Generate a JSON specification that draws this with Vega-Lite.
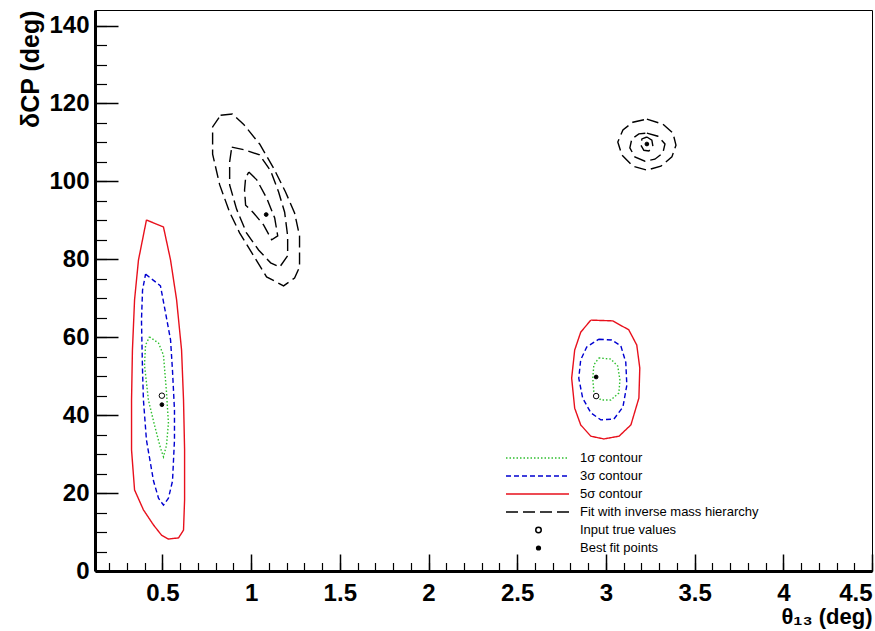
{
  "$schema": "https://vega.github.io/schema/vega-lite/v6.json",
  "width": 777,
  "height": 561,
  "autosize": "none",
  "padding": {"left": 95, "top": 10, "right": 3, "bottom": 60},
  "background": "white",
  "config": {
    "view": {"stroke": "black", "strokeWidth": 1},
    "axis": {
      "grid": false,
      "labelFont": "Liberation Sans",
      "labelFontWeight": "bold",
      "labelFontSize": 24,
      "labelColor": "black",
      "titleFont": "Liberation Sans",
      "titleFontWeight": "bold",
      "titleFontSize": 22,
      "titleColor": "black",
      "tickColor": "black",
      "domainColor": "black"
    },
    "legend": {
      "labelFont": "Liberation Sans",
      "labelFontSize": 13,
      "labelColor": "black",
      "labelLimit": 400,
      "clipHeight": 18,
      "rowPadding": 0,
      "padding": 0
    }
  },
  "datasets": {
    "contours": [
      {"g": "L1", "s": "1σ contour", "i": 0, "x": 0.427, "y": 60.1},
      {"g": "L1", "s": "1σ contour", "i": 1, "x": 0.478, "y": 58.5},
      {"g": "L1", "s": "1σ contour", "i": 2, "x": 0.506, "y": 55.4},
      {"g": "L1", "s": "1σ contour", "i": 3, "x": 0.523, "y": 45.9},
      {"g": "L1", "s": "1σ contour", "i": 4, "x": 0.534, "y": 38.0},
      {"g": "L1", "s": "1σ contour", "i": 5, "x": 0.523, "y": 32.3},
      {"g": "L1", "s": "1σ contour", "i": 6, "x": 0.506, "y": 29.3},
      {"g": "L1", "s": "1σ contour", "i": 7, "x": 0.489, "y": 31.6},
      {"g": "L1", "s": "1σ contour", "i": 8, "x": 0.455, "y": 37.5},
      {"g": "L1", "s": "1σ contour", "i": 9, "x": 0.421, "y": 43.9},
      {"g": "L1", "s": "1σ contour", "i": 10, "x": 0.399, "y": 52.9},
      {"g": "L1", "s": "1σ contour", "i": 11, "x": 0.405, "y": 58.0},
      {"g": "L1", "s": "1σ contour", "i": 12, "x": 0.427, "y": 60.1},

      {"g": "L3", "s": "3σ contour", "i": 0, "x": 0.405, "y": 76.2},
      {"g": "L3", "s": "3σ contour", "i": 1, "x": 0.489, "y": 73.2},
      {"g": "L3", "s": "3σ contour", "i": 2, "x": 0.518, "y": 66.2},
      {"g": "L3", "s": "3σ contour", "i": 3, "x": 0.546, "y": 59.3},
      {"g": "L3", "s": "3σ contour", "i": 4, "x": 0.557, "y": 51.3},
      {"g": "L3", "s": "3σ contour", "i": 5, "x": 0.568, "y": 41.3},
      {"g": "L3", "s": "3σ contour", "i": 6, "x": 0.568, "y": 33.6},
      {"g": "L3", "s": "3σ contour", "i": 7, "x": 0.557, "y": 23.1},
      {"g": "L3", "s": "3σ contour", "i": 8, "x": 0.534, "y": 18.7},
      {"g": "L3", "s": "3σ contour", "i": 9, "x": 0.506, "y": 16.9},
      {"g": "L3", "s": "3σ contour", "i": 10, "x": 0.478, "y": 18.7},
      {"g": "L3", "s": "3σ contour", "i": 11, "x": 0.450, "y": 23.1},
      {"g": "L3", "s": "3σ contour", "i": 12, "x": 0.410, "y": 33.6},
      {"g": "L3", "s": "3σ contour", "i": 13, "x": 0.393, "y": 43.9},
      {"g": "L3", "s": "3σ contour", "i": 14, "x": 0.388, "y": 51.3},
      {"g": "L3", "s": "3σ contour", "i": 15, "x": 0.382, "y": 64.4},
      {"g": "L3", "s": "3σ contour", "i": 16, "x": 0.388, "y": 72.1},
      {"g": "L3", "s": "3σ contour", "i": 17, "x": 0.405, "y": 76.2},

      {"g": "L5", "s": "5σ contour", "i": 0, "x": 0.410, "y": 90.1},
      {"g": "L5", "s": "5σ contour", "i": 1, "x": 0.506, "y": 88.3},
      {"g": "L5", "s": "5σ contour", "i": 2, "x": 0.546, "y": 79.8},
      {"g": "L5", "s": "5σ contour", "i": 3, "x": 0.580, "y": 69.6},
      {"g": "L5", "s": "5σ contour", "i": 4, "x": 0.608, "y": 56.7},
      {"g": "L5", "s": "5σ contour", "i": 5, "x": 0.619, "y": 43.9},
      {"g": "L5", "s": "5σ contour", "i": 6, "x": 0.625, "y": 31.1},
      {"g": "L5", "s": "5σ contour", "i": 7, "x": 0.625, "y": 18.2},
      {"g": "L5", "s": "5σ contour", "i": 8, "x": 0.619, "y": 10.5},
      {"g": "L5", "s": "5σ contour", "i": 9, "x": 0.591, "y": 8.5},
      {"g": "L5", "s": "5σ contour", "i": 10, "x": 0.534, "y": 8.2},
      {"g": "L5", "s": "5σ contour", "i": 11, "x": 0.495, "y": 9.2},
      {"g": "L5", "s": "5σ contour", "i": 12, "x": 0.450, "y": 11.8},
      {"g": "L5", "s": "5σ contour", "i": 13, "x": 0.393, "y": 15.7},
      {"g": "L5", "s": "5σ contour", "i": 14, "x": 0.343, "y": 20.8},
      {"g": "L5", "s": "5σ contour", "i": 15, "x": 0.326, "y": 31.1},
      {"g": "L5", "s": "5σ contour", "i": 16, "x": 0.326, "y": 43.9},
      {"g": "L5", "s": "5σ contour", "i": 17, "x": 0.331, "y": 56.7},
      {"g": "L5", "s": "5σ contour", "i": 18, "x": 0.343, "y": 69.6},
      {"g": "L5", "s": "5σ contour", "i": 19, "x": 0.365, "y": 79.8},
      {"g": "L5", "s": "5σ contour", "i": 20, "x": 0.410, "y": 90.1},

      {"g": "R1", "s": "1σ contour", "i": 0, "x": 2.960, "y": 54.7},
      {"g": "R1", "s": "1σ contour", "i": 1, "x": 3.028, "y": 54.4},
      {"g": "R1", "s": "1σ contour", "i": 2, "x": 3.067, "y": 52.6},
      {"g": "R1", "s": "1σ contour", "i": 3, "x": 3.079, "y": 49.0},
      {"g": "R1", "s": "1σ contour", "i": 4, "x": 3.073, "y": 45.7},
      {"g": "R1", "s": "1σ contour", "i": 5, "x": 3.028, "y": 43.9},
      {"g": "R1", "s": "1σ contour", "i": 6, "x": 2.971, "y": 43.9},
      {"g": "R1", "s": "1σ contour", "i": 7, "x": 2.932, "y": 45.9},
      {"g": "R1", "s": "1σ contour", "i": 8, "x": 2.926, "y": 49.5},
      {"g": "R1", "s": "1σ contour", "i": 9, "x": 2.932, "y": 52.9},
      {"g": "R1", "s": "1σ contour", "i": 10, "x": 2.960, "y": 54.7},

      {"g": "R3", "s": "3σ contour", "i": 0, "x": 2.960, "y": 59.5},
      {"g": "R3", "s": "3σ contour", "i": 1, "x": 3.033, "y": 59.3},
      {"g": "R3", "s": "3σ contour", "i": 2, "x": 3.084, "y": 57.8},
      {"g": "R3", "s": "3σ contour", "i": 3, "x": 3.112, "y": 53.6},
      {"g": "R3", "s": "3σ contour", "i": 4, "x": 3.118, "y": 47.7},
      {"g": "R3", "s": "3σ contour", "i": 5, "x": 3.096, "y": 42.1},
      {"g": "R3", "s": "3σ contour", "i": 6, "x": 3.045, "y": 39.0},
      {"g": "R3", "s": "3σ contour", "i": 7, "x": 2.971, "y": 38.8},
      {"g": "R3", "s": "3σ contour", "i": 8, "x": 2.915, "y": 40.6},
      {"g": "R3", "s": "3σ contour", "i": 9, "x": 2.869, "y": 44.4},
      {"g": "R3", "s": "3σ contour", "i": 10, "x": 2.847, "y": 49.5},
      {"g": "R3", "s": "3σ contour", "i": 11, "x": 2.858, "y": 54.2},
      {"g": "R3", "s": "3σ contour", "i": 12, "x": 2.892, "y": 57.5},
      {"g": "R3", "s": "3σ contour", "i": 13, "x": 2.960, "y": 59.5},

      {"g": "R5", "s": "5σ contour", "i": 0, "x": 2.915, "y": 64.4},
      {"g": "R5", "s": "5σ contour", "i": 1, "x": 3.039, "y": 64.2},
      {"g": "R5", "s": "5σ contour", "i": 2, "x": 3.129, "y": 61.9},
      {"g": "R5", "s": "5σ contour", "i": 3, "x": 3.174, "y": 58.0},
      {"g": "R5", "s": "5σ contour", "i": 4, "x": 3.191, "y": 52.1},
      {"g": "R5", "s": "5σ contour", "i": 5, "x": 3.186, "y": 44.4},
      {"g": "R5", "s": "5σ contour", "i": 6, "x": 3.141, "y": 37.5},
      {"g": "R5", "s": "5σ contour", "i": 7, "x": 3.074, "y": 34.6},
      {"g": "R5", "s": "5σ contour", "i": 8, "x": 2.988, "y": 33.9},
      {"g": "R5", "s": "5σ contour", "i": 9, "x": 2.915, "y": 34.6},
      {"g": "R5", "s": "5σ contour", "i": 10, "x": 2.858, "y": 37.5},
      {"g": "R5", "s": "5σ contour", "i": 11, "x": 2.824, "y": 41.8},
      {"g": "R5", "s": "5σ contour", "i": 12, "x": 2.807, "y": 49.5},
      {"g": "R5", "s": "5σ contour", "i": 13, "x": 2.824, "y": 56.7},
      {"g": "R5", "s": "5σ contour", "i": 14, "x": 2.858, "y": 61.3},
      {"g": "R5", "s": "5σ contour", "i": 15, "x": 2.915, "y": 64.4},

      {"g": "B1", "s": "Fit with inverse mass hierarchy", "i": 0, "x": 0.828, "y": 117.0},
      {"g": "B1", "s": "Fit with inverse mass hierarchy", "i": 1, "x": 0.895, "y": 117.3},
      {"g": "B1", "s": "Fit with inverse mass hierarchy", "i": 2, "x": 0.957, "y": 114.7},
      {"g": "B1", "s": "Fit with inverse mass hierarchy", "i": 3, "x": 1.048, "y": 109.6},
      {"g": "B1", "s": "Fit with inverse mass hierarchy", "i": 4, "x": 1.127, "y": 103.4},
      {"g": "B1", "s": "Fit with inverse mass hierarchy", "i": 5, "x": 1.194, "y": 97.3},
      {"g": "B1", "s": "Fit with inverse mass hierarchy", "i": 6, "x": 1.245, "y": 91.9},
      {"g": "B1", "s": "Fit with inverse mass hierarchy", "i": 7, "x": 1.273, "y": 86.0},
      {"g": "B1", "s": "Fit with inverse mass hierarchy", "i": 8, "x": 1.273, "y": 78.0},
      {"g": "B1", "s": "Fit with inverse mass hierarchy", "i": 9, "x": 1.245, "y": 75.2},
      {"g": "B1", "s": "Fit with inverse mass hierarchy", "i": 10, "x": 1.183, "y": 73.2},
      {"g": "B1", "s": "Fit with inverse mass hierarchy", "i": 11, "x": 1.087, "y": 75.5},
      {"g": "B1", "s": "Fit with inverse mass hierarchy", "i": 12, "x": 1.014, "y": 80.9},
      {"g": "B1", "s": "Fit with inverse mass hierarchy", "i": 13, "x": 0.935, "y": 86.8},
      {"g": "B1", "s": "Fit with inverse mass hierarchy", "i": 14, "x": 0.879, "y": 92.1},
      {"g": "B1", "s": "Fit with inverse mass hierarchy", "i": 15, "x": 0.823, "y": 99.1},
      {"g": "B1", "s": "Fit with inverse mass hierarchy", "i": 16, "x": 0.783, "y": 107.0},
      {"g": "B1", "s": "Fit with inverse mass hierarchy", "i": 17, "x": 0.783, "y": 114.0},
      {"g": "B1", "s": "Fit with inverse mass hierarchy", "i": 18, "x": 0.828, "y": 117.0},

      {"g": "B2", "s": "Fit with inverse mass hierarchy", "i": 0, "x": 0.891, "y": 108.8},
      {"g": "B2", "s": "Fit with inverse mass hierarchy", "i": 1, "x": 0.964, "y": 108.1},
      {"g": "B2", "s": "Fit with inverse mass hierarchy", "i": 2, "x": 1.048, "y": 106.8},
      {"g": "B2", "s": "Fit with inverse mass hierarchy", "i": 3, "x": 1.110, "y": 102.7},
      {"g": "B2", "s": "Fit with inverse mass hierarchy", "i": 4, "x": 1.155, "y": 97.3},
      {"g": "B2", "s": "Fit with inverse mass hierarchy", "i": 5, "x": 1.189, "y": 92.1},
      {"g": "B2", "s": "Fit with inverse mass hierarchy", "i": 6, "x": 1.206, "y": 86.0},
      {"g": "B2", "s": "Fit with inverse mass hierarchy", "i": 7, "x": 1.206, "y": 80.9},
      {"g": "B2", "s": "Fit with inverse mass hierarchy", "i": 8, "x": 1.161, "y": 78.0},
      {"g": "B2", "s": "Fit with inverse mass hierarchy", "i": 9, "x": 1.110, "y": 79.1},
      {"g": "B2", "s": "Fit with inverse mass hierarchy", "i": 10, "x": 1.042, "y": 82.4},
      {"g": "B2", "s": "Fit with inverse mass hierarchy", "i": 11, "x": 0.974, "y": 86.8},
      {"g": "B2", "s": "Fit with inverse mass hierarchy", "i": 12, "x": 0.918, "y": 92.9},
      {"g": "B2", "s": "Fit with inverse mass hierarchy", "i": 13, "x": 0.879, "y": 99.1},
      {"g": "B2", "s": "Fit with inverse mass hierarchy", "i": 14, "x": 0.879, "y": 105.0},
      {"g": "B2", "s": "Fit with inverse mass hierarchy", "i": 15, "x": 0.891, "y": 108.8},

      {"g": "B3", "s": "Fit with inverse mass hierarchy", "i": 0, "x": 0.987, "y": 102.4},
      {"g": "B3", "s": "Fit with inverse mass hierarchy", "i": 1, "x": 1.032, "y": 100.4},
      {"g": "B3", "s": "Fit with inverse mass hierarchy", "i": 2, "x": 1.088, "y": 95.7},
      {"g": "B3", "s": "Fit with inverse mass hierarchy", "i": 3, "x": 1.133, "y": 90.6},
      {"g": "B3", "s": "Fit with inverse mass hierarchy", "i": 4, "x": 1.150, "y": 86.0},
      {"g": "B3", "s": "Fit with inverse mass hierarchy", "i": 5, "x": 1.116, "y": 85.0},
      {"g": "B3", "s": "Fit with inverse mass hierarchy", "i": 6, "x": 1.071, "y": 88.8},
      {"g": "B3", "s": "Fit with inverse mass hierarchy", "i": 7, "x": 1.014, "y": 91.9},
      {"g": "B3", "s": "Fit with inverse mass hierarchy", "i": 8, "x": 0.969, "y": 93.9},
      {"g": "B3", "s": "Fit with inverse mass hierarchy", "i": 9, "x": 0.963, "y": 97.8},
      {"g": "B3", "s": "Fit with inverse mass hierarchy", "i": 10, "x": 0.969, "y": 100.9},
      {"g": "B3", "s": "Fit with inverse mass hierarchy", "i": 11, "x": 0.987, "y": 102.4},

      {"g": "C1", "s": "Fit with inverse mass hierarchy", "i": 0, "x": 3.231, "y": 116.0},
      {"g": "C1", "s": "Fit with inverse mass hierarchy", "i": 1, "x": 3.321, "y": 114.7},
      {"g": "C1", "s": "Fit with inverse mass hierarchy", "i": 2, "x": 3.378, "y": 112.4},
      {"g": "C1", "s": "Fit with inverse mass hierarchy", "i": 3, "x": 3.395, "y": 109.3},
      {"g": "C1", "s": "Fit with inverse mass hierarchy", "i": 4, "x": 3.372, "y": 106.3},
      {"g": "C1", "s": "Fit with inverse mass hierarchy", "i": 5, "x": 3.310, "y": 103.9},
      {"g": "C1", "s": "Fit with inverse mass hierarchy", "i": 6, "x": 3.231, "y": 102.9},
      {"g": "C1", "s": "Fit with inverse mass hierarchy", "i": 7, "x": 3.152, "y": 103.9},
      {"g": "C1", "s": "Fit with inverse mass hierarchy", "i": 8, "x": 3.090, "y": 106.8},
      {"g": "C1", "s": "Fit with inverse mass hierarchy", "i": 9, "x": 3.067, "y": 110.1},
      {"g": "C1", "s": "Fit with inverse mass hierarchy", "i": 10, "x": 3.096, "y": 113.2},
      {"g": "C1", "s": "Fit with inverse mass hierarchy", "i": 11, "x": 3.152, "y": 115.2},
      {"g": "C1", "s": "Fit with inverse mass hierarchy", "i": 12, "x": 3.231, "y": 116.0},

      {"g": "C2", "s": "Fit with inverse mass hierarchy", "i": 0, "x": 3.231, "y": 112.4},
      {"g": "C2", "s": "Fit with inverse mass hierarchy", "i": 1, "x": 3.293, "y": 111.6},
      {"g": "C2", "s": "Fit with inverse mass hierarchy", "i": 2, "x": 3.333, "y": 109.6},
      {"g": "C2", "s": "Fit with inverse mass hierarchy", "i": 3, "x": 3.321, "y": 107.3},
      {"g": "C2", "s": "Fit with inverse mass hierarchy", "i": 4, "x": 3.276, "y": 105.7},
      {"g": "C2", "s": "Fit with inverse mass hierarchy", "i": 5, "x": 3.220, "y": 105.2},
      {"g": "C2", "s": "Fit with inverse mass hierarchy", "i": 6, "x": 3.163, "y": 106.3},
      {"g": "C2", "s": "Fit with inverse mass hierarchy", "i": 7, "x": 3.135, "y": 108.6},
      {"g": "C2", "s": "Fit with inverse mass hierarchy", "i": 8, "x": 3.146, "y": 110.9},
      {"g": "C2", "s": "Fit with inverse mass hierarchy", "i": 9, "x": 3.186, "y": 112.2},
      {"g": "C2", "s": "Fit with inverse mass hierarchy", "i": 10, "x": 3.231, "y": 112.4},

      {"g": "C3", "s": "Fit with inverse mass hierarchy", "i": 0, "x": 3.231, "y": 111.4},
      {"g": "C3", "s": "Fit with inverse mass hierarchy", "i": 1, "x": 3.259, "y": 110.6},
      {"g": "C3", "s": "Fit with inverse mass hierarchy", "i": 2, "x": 3.265, "y": 109.0},
      {"g": "C3", "s": "Fit with inverse mass hierarchy", "i": 3, "x": 3.242, "y": 107.8},
      {"g": "C3", "s": "Fit with inverse mass hierarchy", "i": 4, "x": 3.214, "y": 108.0},
      {"g": "C3", "s": "Fit with inverse mass hierarchy", "i": 5, "x": 3.197, "y": 109.3},
      {"g": "C3", "s": "Fit with inverse mass hierarchy", "i": 6, "x": 3.203, "y": 110.9},
      {"g": "C3", "s": "Fit with inverse mass hierarchy", "i": 7, "x": 3.231, "y": 111.4}
    ],
    "points": [
      {"p": "Input true values", "x": 0.497, "y": 45.0},
      {"p": "Best fit points", "x": 0.497, "y": 42.7},
      {"p": "Input true values", "x": 2.945, "y": 44.9},
      {"p": "Best fit points", "x": 2.945, "y": 49.8},
      {"p": "Best fit points", "x": 1.085, "y": 91.5},
      {"p": "Best fit points", "x": 3.231, "y": 109.6}
    ]
  },
  "layer": [
    {
      "data": {"name": "contours"},
      "mark": {"type": "line", "strokeWidth": 1.4, "strokeCap": "butt"},
      "encoding": {
        "x": {
          "field": "x", "type": "quantitative",
          "scale": {"domain": [0.12, 4.5], "nice": false, "zero": false},
          "axis": {
            "orient": "bottom",
            "values": [0.5, 1, 1.5, 2, 2.5, 3, 3.5, 4, 4.5],
            "format": "~g",
            "tickSize": -17, "tickWidth": 1.5,
            "labelPadding": 27, "labelFlush": true,
            "domainWidth": 3,
            "title": "θ₁₃ (deg)", "titleAnchor": "end", "titlePadding": 1
          }
        },
        "y": {
          "field": "y", "type": "quantitative",
          "scale": {"domain": [0, 144], "nice": false, "zero": false},
          "axis": {
            "orient": "left",
            "values": [0, 20, 40, 60, 80, 100, 120, 140],
            "format": "d",
            "tickSize": -23, "tickWidth": 1.5,
            "labelPadding": 29,
            "domainWidth": 3,
            "title": "δCP (deg)", "titleAnchor": "end", "titlePadding": 5, "titleFontSize": 25
          }
        },
        "detail": {"field": "g", "type": "nominal"},
        "order": {"field": "i", "type": "quantitative"},
        "color": {
          "field": "s", "type": "nominal",
          "scale": {
            "domain": ["1σ contour", "3σ contour", "5σ contour", "Fit with inverse mass hierarchy"],
            "range": ["#2fbf2f", "#0000d0", "#e8101c", "#000000"]
          },
          "legend": {
            "title": null, "orient": "none", "legendX": 410, "legendY": 439,
            "symbolType": "stroke", "symbolSize": 3969, "symbolStrokeWidth": 1.5,
            "labelOffset": 10
          }
        },
        "strokeDash": {
          "field": "s", "type": "nominal",
          "scale": {
            "domain": ["1σ contour", "3σ contour", "5σ contour", "Fit with inverse mass hierarchy"],
            "range": [[1.5, 2], [5, 3], [1, 0], [12, 5]]
          },
          "legend": {
            "title": null, "orient": "none", "legendX": 410, "legendY": 439,
            "symbolType": "stroke", "symbolSize": 3969, "symbolStrokeWidth": 1.5,
            "labelOffset": 10
          }
        }
      }
    },
    {
      "data": {"name": "points"},
      "mark": {"type": "point", "filled": true, "shape": "circle", "stroke": "black", "strokeWidth": 1, "opacity": 1},
      "encoding": {
        "x": {
          "field": "x", "type": "quantitative",
          "axis": {
            "orient": "bottom",
            "values": [0.2, 0.3, 0.4, 0.5, 0.6, 0.7, 0.8, 0.9, 1.0, 1.1, 1.2, 1.3, 1.4, 1.5, 1.6, 1.7, 1.8, 1.9, 2.0, 2.1, 2.2, 2.3, 2.4, 2.5, 2.6, 2.7, 2.8, 2.9, 3.0, 3.1, 3.2, 3.3, 3.4, 3.5, 3.6, 3.7, 3.8, 3.9, 4.0, 4.1, 4.2, 4.3, 4.4, 4.5],
            "tickSize": -8.5, "tickWidth": 1.2,
            "labels": false, "domain": false, "title": null
          }
        },
        "y": {
          "field": "y", "type": "quantitative",
          "axis": {
            "orient": "left",
            "values": [5, 10, 15, 20, 25, 30, 35, 40, 45, 50, 55, 60, 65, 70, 75, 80, 85, 90, 95, 100, 105, 110, 115, 120, 125, 130, 135, 140],
            "tickSize": -11.5, "tickWidth": 1.2,
            "labels": false, "domain": false, "title": null
          }
        },
        "fill": {
          "field": "p", "type": "nominal",
          "scale": {"domain": ["Input true values", "Best fit points"], "range": ["white", "black"]},
          "legend": {
            "title": null, "orient": "none", "legendX": 410, "legendY": 511,
            "symbolOffset": 27, "labelOffset": 35,
            "encode": {"symbols": {"stroke": {"value": "black"}, "strokeWidth": {"value": 1}}}
          }
        },
        "size": {
          "field": "p", "type": "nominal",
          "scale": {"domain": ["Input true values", "Best fit points"], "range": [30, 14]},
          "legend": {
            "title": null, "orient": "none", "legendX": 410, "legendY": 511,
            "symbolOffset": 27, "labelOffset": 35,
            "encode": {"symbols": {"stroke": {"value": "black"}, "strokeWidth": {"value": 1}}}
          }
        }
      }
    }
  ],
  "resolve": {
    "scale": {"x": "shared", "y": "shared"},
    "axis": {"x": "independent", "y": "independent"}
  }
}
